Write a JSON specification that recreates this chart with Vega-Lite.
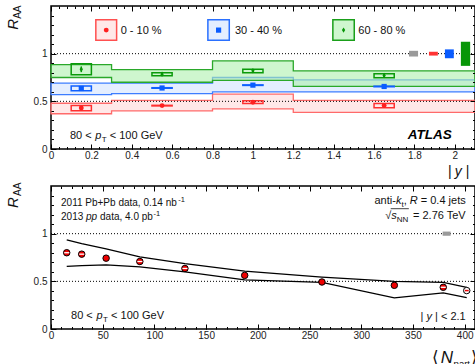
{
  "$schema": "https://vega.github.io/schema/vega-lite/v6.json",
  "background": "white",
  "padding": {"left": 5, "top": 4, "right": 1, "bottom": 0},
  "bounds": "flush",
  "spacing": 37,
  "config": {
    "font": "Liberation Sans",
    "view": {"stroke": "#000", "strokeWidth": 1.5},
    "axis": {"labelFont": "Liberation Sans", "labelOverlap": false, "labelFlush": false, "grid": false}
  },
  "datasets": {
    "tBand": [
      {"s": "0-10", "x": 0, "lo": 0.37, "hi": 0.48},
      {"s": "0-10", "x": 0.3, "lo": 0.40, "hi": 0.51},
      {"s": "0-10", "x": 0.8, "lo": 0.42, "hi": 0.575},
      {"s": "0-10", "x": 1.2, "lo": 0.385, "hi": 0.51},
      {"s": "0-10", "x": 2.1, "lo": 0.385, "hi": 0.51},
      {"s": "30-40", "x": 0, "lo": 0.57, "hi": 0.69},
      {"s": "30-40", "x": 0.3, "lo": 0.58, "hi": 0.69},
      {"s": "30-40", "x": 0.8, "lo": 0.60, "hi": 0.75},
      {"s": "30-40", "x": 1.2, "lo": 0.60, "hi": 0.726},
      {"s": "30-40", "x": 2.1, "lo": 0.60, "hi": 0.726},
      {"s": "60-80", "x": 0, "lo": 0.75, "hi": 0.885},
      {"s": "60-80", "x": 0.3, "lo": 0.70, "hi": 0.833},
      {"s": "60-80", "x": 0.8, "lo": 0.72, "hi": 0.924},
      {"s": "60-80", "x": 1.2, "lo": 0.656, "hi": 0.82},
      {"s": "60-80", "x": 2.1, "lo": 0.656, "hi": 0.82}
    ],
    "tPts": [
      {"s": "0-10", "x": 0.15, "y": 0.43, "elo": 0.422, "ehi": 0.438, "x1": 0.1, "x2": 0.2, "blo": 0.40, "bhi": 0.455},
      {"s": "0-10", "x": 0.55, "y": 0.455, "elo": 0.447, "ehi": 0.463, "x1": 0.5, "x2": 0.6, "blo": 0.452, "bhi": 0.458},
      {"s": "0-10", "x": 1.0, "y": 0.49, "elo": 0.482, "ehi": 0.498, "x1": 0.95, "x2": 1.05, "blo": 0.478, "bhi": 0.505},
      {"s": "0-10", "x": 1.65, "y": 0.455, "elo": 0.447, "ehi": 0.463, "x1": 1.6, "x2": 1.7, "blo": 0.432, "bhi": 0.476},
      {"s": "30-40", "x": 0.15, "y": 0.635, "elo": 0.625, "ehi": 0.645, "x1": 0.1, "x2": 0.2, "blo": 0.61, "bhi": 0.66},
      {"s": "30-40", "x": 0.55, "y": 0.64, "elo": 0.63, "ehi": 0.65, "x1": 0.5, "x2": 0.6, "blo": 0.637, "bhi": 0.643},
      {"s": "30-40", "x": 1.0, "y": 0.67, "elo": 0.66, "ehi": 0.68, "x1": 0.95, "x2": 1.05, "blo": 0.667, "bhi": 0.673},
      {"s": "30-40", "x": 1.65, "y": 0.656, "elo": 0.646, "ehi": 0.666, "x1": 1.6, "x2": 1.7, "blo": 0.653, "bhi": 0.659},
      {"s": "60-80", "x": 0.15, "y": 0.836, "elo": 0.806, "ehi": 0.866, "x1": 0.1, "x2": 0.2, "blo": 0.78, "bhi": 0.895},
      {"s": "60-80", "x": 0.55, "y": 0.785, "elo": 0.765, "ehi": 0.805, "x1": 0.5, "x2": 0.6, "blo": 0.768, "bhi": 0.80},
      {"s": "60-80", "x": 1.0, "y": 0.82, "elo": 0.80, "ehi": 0.84, "x1": 0.95, "x2": 1.05, "blo": 0.80, "bhi": 0.836},
      {"s": "60-80", "x": 1.65, "y": 0.77, "elo": 0.75, "ehi": 0.79, "x1": 1.6, "x2": 1.7, "blo": 0.748, "bhi": 0.79}
    ],
    "tNorm": [
      {"s": "pp", "x1": 1.773, "x2": 1.818, "y1": 0.97, "y2": 1.03},
      {"s": "0-10", "x1": 1.872, "x2": 1.916, "y1": 0.98, "y2": 1.02},
      {"s": "30-40", "x1": 1.951, "x2": 1.995, "y1": 0.952, "y2": 1.045},
      {"s": "60-80", "x1": 2.03, "x2": 2.076, "y1": 0.872, "y2": 1.125}
    ],
    "tLeg": [
      {"s": "0-10", "x1": 0.222, "x2": 0.325, "y1": 1.14, "y2": 1.355, "mx": 0.2735, "my": 1.247, "tx": 0.345, "ty": 1.24, "label": "0 - 10 %"},
      {"s": "30-40", "x1": 0.777, "x2": 0.883, "y1": 1.14, "y2": 1.355, "mx": 0.83, "my": 1.247, "tx": 0.911, "ty": 1.24, "label": "30 - 40 %"},
      {"s": "60-80", "x1": 1.396, "x2": 1.502, "y1": 1.14, "y2": 1.355, "mx": 1.449, "my": 1.247, "tx": 1.522, "ty": 1.24, "label": "60 - 80 %"}
    ],
    "bLines": [
      {"edge": "up", "N": 15.2, "v": 0.934}, {"edge": "up", "N": 29.7, "v": 0.895}, {"edge": "up", "N": 53.3, "v": 0.84},
      {"edge": "up", "N": 85.9, "v": 0.757}, {"edge": "up", "N": 129.5, "v": 0.685}, {"edge": "up", "N": 187.3, "v": 0.607},
      {"edge": "up", "N": 262, "v": 0.545}, {"edge": "up", "N": 332, "v": 0.50}, {"edge": "up", "N": 379.3, "v": 0.49},
      {"edge": "up", "N": 402, "v": 0.4375},
      {"edge": "lo", "N": 15.2, "v": 0.657}, {"edge": "lo", "N": 29.7, "v": 0.665}, {"edge": "lo", "N": 53.3, "v": 0.672},
      {"edge": "lo", "N": 85.9, "v": 0.652}, {"edge": "lo", "N": 129.5, "v": 0.60}, {"edge": "lo", "N": 187.3, "v": 0.515},
      {"edge": "lo", "N": 262, "v": 0.49}, {"edge": "lo", "N": 332, "v": 0.326}, {"edge": "lo", "N": 379.3, "v": 0.378},
      {"edge": "lo", "N": 402, "v": 0.33}
    ],
    "bPts": [
      {"N": 15.2, "v": 0.80}, {"N": 29.7, "v": 0.785}, {"N": 53.3, "v": 0.743}, {"N": 85.9, "v": 0.708},
      {"N": 129.5, "v": 0.635}, {"N": 187.3, "v": 0.5625}, {"N": 262, "v": 0.493}, {"N": 332, "v": 0.458},
      {"N": 379.3, "v": 0.4375}
    ],
    "bDash": [
      {"N": 15.2, "v": 0.80}, {"N": 29.7, "v": 0.785}, {"N": 85.9, "v": 0.708}, {"N": 129.5, "v": 0.635}, {"N": 379.3, "v": 0.4375}
    ],
    "bOpen": [
      {"N": 402, "v": 0.403}
    ]
  },
  "vconcat": [
    {
      "width": 424,
      "height": 143,
      "resolve": {
        "axis": {"x": "independent", "y": "independent"},
        "scale": {"fill": "independent", "stroke": "independent", "shape": "independent", "size": "independent"}
      },
      "layer": [
        {
          "data": {"name": "tBand"},
          "mark": {"type": "area", "interpolate": "step-after", "fillOpacity": 0.6, "strokeWidth": 1.3},
          "encoding": {
            "x": {"field": "x", "type": "quantitative", "scale": {"domain": [0, 2.1], "nice": false},
              "axis": {"orient": "bottom", "values": [0, 0.2, 0.4, 0.6, 0.8, 1, 1.2, 1.4, 1.6, 1.8, 2], "format": "~g", "ticks": false, "domain": false, "labelFontSize": 10, "labelColor": "#222", "labelPadding": 1, "title": null}},
            "y": {"field": "hi", "type": "quantitative", "scale": {"domain": [0, 1.5], "nice": false},
              "axis": {"orient": "left", "values": [0, 0.5, 1], "format": "~g", "ticks": false, "domain": false, "labelFontSize": 10, "labelColor": "#222", "labelPadding": 4, "title": null}},
            "y2": {"field": "lo"},
            "fill": {"field": "s", "type": "nominal", "scale": {"domain": ["0-10", "30-40", "60-80"], "range": ["#ffd9d9", "#d2e2ff", "#aef0ae"]}, "legend": null},
            "stroke": {"field": "s", "type": "nominal", "scale": {"domain": ["0-10", "30-40", "60-80"], "range": ["#ff6a6a", "#3d7dff", "#2aa82a"]}, "legend": null}
          }
        },
        {
          "data": {"values": [{"v": 1}, {"v": 0.5}]},
          "mark": {"type": "rule", "color": "#000", "strokeWidth": 1, "strokeDash": [1, 2]},
          "encoding": {"y": {"field": "v", "type": "quantitative", "axis": null}}
        },
        {
          "data": {"name": "tPts"},
          "mark": {"type": "rect", "filled": false, "strokeWidth": 1.5},
          "encoding": {
            "x": {"field": "x1", "type": "quantitative",
              "axis": {"orient": "bottom", "values": [0, 0.2, 0.4, 0.6, 0.8, 1, 1.2, 1.4, 1.6, 1.8, 2], "labels": false, "domain": false, "tickSize": 5, "offset": -5, "tickColor": "#000", "title": null, "zindex": 2}},
            "x2": {"field": "x2"},
            "y": {"field": "blo", "type": "quantitative",
              "axis": {"orient": "left", "values": [0, 0.5, 1], "labels": false, "domain": false, "tickSize": 5, "offset": -5, "tickColor": "#000", "title": null, "zindex": 2}},
            "y2": {"field": "bhi"},
            "stroke": {"field": "s", "type": "nominal", "scale": {"domain": ["0-10", "30-40", "60-80"], "range": ["#ff3030", "#1060ff", "#0a9a0a"]}, "legend": null}
          }
        },
        {
          "data": {"name": "tPts"},
          "mark": {"type": "rule", "strokeWidth": 1.5},
          "encoding": {
            "x": {"field": "x", "type": "quantitative",
              "axis": {"orient": "bottom", "values": [0, 0.04, 0.08, 0.12, 0.16, 0.2, 0.24, 0.28, 0.32, 0.36, 0.4, 0.44, 0.48, 0.52, 0.56, 0.6, 0.64, 0.68, 0.72, 0.76, 0.8, 0.84, 0.88, 0.92, 0.96, 1, 1.04, 1.08, 1.12, 1.16, 1.2, 1.24, 1.28, 1.32, 1.36, 1.4, 1.44, 1.48, 1.52, 1.56, 1.6, 1.64, 1.68, 1.72, 1.76, 1.8, 1.84, 1.88, 1.92, 1.96, 2, 2.04, 2.08], "labels": false, "domain": false, "tickSize": 2.5, "offset": -2.5, "tickColor": "#000", "title": null, "zindex": 2}},
            "y": {"field": "elo", "type": "quantitative",
              "axis": {"orient": "left", "values": [0, 0.1, 0.2, 0.3, 0.4, 0.5, 0.6, 0.7, 0.8, 0.9, 1, 1.1, 1.2, 1.3, 1.4], "labels": false, "domain": false, "tickSize": 2.5, "offset": -2.5, "tickColor": "#000", "title": null, "zindex": 2}},
            "y2": {"field": "ehi"},
            "stroke": {"field": "s", "type": "nominal", "scale": {"domain": ["0-10", "30-40", "60-80"], "range": ["#ff3030", "#1060ff", "#0a9a0a"]}, "legend": null}
          }
        },
        {
          "data": {"name": "tPts"},
          "mark": {"type": "point", "filled": true, "opacity": 1, "strokeWidth": 0},
          "encoding": {
            "x": {"field": "x", "type": "quantitative",
              "axis": {"orient": "top", "values": [0, 0.2, 0.4, 0.6, 0.8, 1, 1.2, 1.4, 1.6, 1.8, 2], "labels": false, "domain": false, "tickSize": 5, "offset": -5, "tickColor": "#000", "title": null, "zindex": 2}},
            "y": {"field": "y", "type": "quantitative",
              "axis": {"orient": "right", "values": [0, 0.5, 1], "labels": false, "domain": false, "tickSize": 5, "offset": -5, "tickColor": "#000", "title": null, "zindex": 2}},
            "fill": {"field": "s", "type": "nominal", "scale": {"domain": ["0-10", "30-40", "60-80"], "range": ["#ff2020", "#0a5cff", "#079607"]}, "legend": null},
            "shape": {"field": "s", "type": "nominal", "scale": {"domain": ["0-10", "30-40", "60-80"], "range": ["circle", "square", "M0,-1L0.6,0L0,1L-0.6,0Z"]}, "legend": null},
            "size": {"field": "s", "type": "ordinal", "scale": {"domain": ["0-10", "30-40", "60-80"], "range": [24, 30, 50]}, "legend": null}
          }
        },
        {
          "data": {"name": "tNorm"},
          "mark": {"type": "rect", "opacity": 1},
          "encoding": {
            "x": {"field": "x1", "type": "quantitative",
              "axis": {"orient": "top", "values": [0, 0.04, 0.08, 0.12, 0.16, 0.2, 0.24, 0.28, 0.32, 0.36, 0.4, 0.44, 0.48, 0.52, 0.56, 0.6, 0.64, 0.68, 0.72, 0.76, 0.8, 0.84, 0.88, 0.92, 0.96, 1, 1.04, 1.08, 1.12, 1.16, 1.2, 1.24, 1.28, 1.32, 1.36, 1.4, 1.44, 1.48, 1.52, 1.56, 1.6, 1.64, 1.68, 1.72, 1.76, 1.8, 1.84, 1.88, 1.92, 1.96, 2, 2.04, 2.08], "labels": false, "domain": false, "tickSize": 2.5, "offset": -2.5, "tickColor": "#000", "title": null, "zindex": 2}},
            "x2": {"field": "x2"},
            "y": {"field": "y1", "type": "quantitative",
              "axis": {"orient": "right", "values": [0, 0.1, 0.2, 0.3, 0.4, 0.5, 0.6, 0.7, 0.8, 0.9, 1, 1.1, 1.2, 1.3, 1.4], "labels": false, "domain": false, "tickSize": 2.5, "offset": -2.5, "tickColor": "#000", "title": null, "zindex": 2}},
            "y2": {"field": "y2"},
            "fill": {"field": "s", "type": "nominal", "scale": {"domain": ["pp", "0-10", "30-40", "60-80"], "range": ["#9a9a9a", "#ff3333", "#0a5cff", "#079607"]}, "legend": null}
          }
        },
        {
          "data": {"name": "tLeg"},
          "mark": {"type": "rect", "fillOpacity": 0.6, "strokeWidth": 1.5},
          "encoding": {
            "x": {"field": "x1", "type": "quantitative", "axis": null},
            "x2": {"field": "x2"},
            "y": {"field": "y1", "type": "quantitative", "axis": null},
            "y2": {"field": "y2"},
            "fill": {"field": "s", "type": "nominal", "scale": {"domain": ["0-10", "30-40", "60-80"], "range": ["#ffd9d9", "#d2e2ff", "#aef0ae"]}, "legend": null},
            "stroke": {"field": "s", "type": "nominal", "scale": {"domain": ["0-10", "30-40", "60-80"], "range": ["#ff5050", "#2a70ff", "#1a9f1a"]}, "legend": null}
          }
        },
        {
          "data": {"name": "tLeg"},
          "mark": {"type": "point", "filled": true, "opacity": 1, "strokeWidth": 0},
          "encoding": {
            "x": {"field": "mx", "type": "quantitative", "axis": null},
            "y": {"field": "my", "type": "quantitative", "axis": null},
            "fill": {"field": "s", "type": "nominal", "scale": {"domain": ["0-10", "30-40", "60-80"], "range": ["#ff2020", "#0a5cff", "#079607"]}, "legend": null},
            "shape": {"field": "s", "type": "nominal", "scale": {"domain": ["0-10", "30-40", "60-80"], "range": ["circle", "square", "M0,-1L0.6,0L0,1L-0.6,0Z"]}, "legend": null},
            "size": {"field": "s", "type": "ordinal", "scale": {"domain": ["0-10", "30-40", "60-80"], "range": [24, 30, 50]}, "legend": null}
          }
        },
        {
          "data": {"name": "tLeg"},
          "mark": {"type": "text", "align": "left", "baseline": "middle", "fontSize": 11, "color": "#111"},
          "encoding": {
            "x": {"field": "tx", "type": "quantitative", "axis": null},
            "y": {"field": "ty", "type": "quantitative", "axis": null},
            "text": {"field": "label"}
          }
        },
        {
          "data": {"values": [{"x": 0.0936, "y": 0.104, "t": "80 <"}, {"x": 0.291, "y": 0.104, "t": "< 100 GeV"}]},
          "mark": {"type": "text", "align": "left", "baseline": "alphabetic", "fontSize": 11, "color": "#111"},
          "encoding": {"x": {"field": "x", "type": "quantitative", "axis": null}, "y": {"field": "y", "type": "quantitative", "axis": null}, "text": {"field": "t"}}
        },
        {
          "data": {"values": [{"x": 0.219, "y": 0.104, "t": "p"}]},
          "mark": {"type": "text", "align": "left", "baseline": "alphabetic", "fontSize": 11, "fontStyle": "italic", "color": "#111"},
          "encoding": {"x": {"field": "x", "type": "quantitative", "axis": null}, "y": {"field": "y", "type": "quantitative", "axis": null}, "text": {"field": "t"}}
        },
        {
          "data": {"values": [{"x": 0.251, "y": 0.073, "t": "T"}]},
          "mark": {"type": "text", "align": "left", "baseline": "alphabetic", "fontSize": 8, "color": "#111"},
          "encoding": {"x": {"field": "x", "type": "quantitative", "axis": null}, "y": {"field": "y", "type": "quantitative", "axis": null}, "text": {"field": "t"}}
        },
        {
          "data": {"values": [{"x": 1.985, "y": 0.104, "t": "ATLAS"}]},
          "mark": {"type": "text", "align": "right", "baseline": "alphabetic", "fontSize": 13.5, "fontStyle": "italic", "fontWeight": "bold", "color": "#000"},
          "encoding": {"x": {"field": "x", "type": "quantitative", "axis": null}, "y": {"field": "y", "type": "quantitative", "axis": null}, "text": {"field": "t"}}
        },
        {
          "data": {"values": [{"x": 1.966, "y": -0.281, "t": "|"}, {"x": 2.054, "y": -0.281, "t": "|"}]},
          "mark": {"type": "text", "align": "left", "baseline": "alphabetic", "fontSize": 14, "color": "#111"},
          "encoding": {"x": {"field": "x", "type": "quantitative", "axis": null}, "y": {"field": "y", "type": "quantitative", "axis": null}, "text": {"field": "t"}}
        },
        {
          "data": {"values": [{"x": 2.0, "y": -0.281, "t": "y"}]},
          "mark": {"type": "text", "align": "left", "baseline": "alphabetic", "fontSize": 14, "fontStyle": "italic", "color": "#111"},
          "encoding": {"x": {"field": "x", "type": "quantitative", "axis": null}, "y": {"field": "y", "type": "quantitative", "axis": null}, "text": {"field": "t"}}
        },
        {
          "data": {"values": [{"x": -0.1626, "y": 1.25, "t": "R"}]},
          "mark": {"type": "text", "angle": 270, "align": "left", "baseline": "alphabetic", "fontSize": 15, "fontStyle": "italic", "color": "#111"},
          "encoding": {"x": {"field": "x", "type": "quantitative", "axis": null}, "y": {"field": "y", "type": "quantitative", "axis": null}, "text": {"field": "t"}}
        },
        {
          "data": {"values": [{"x": -0.148, "y": 1.365, "t": "AA"}]},
          "mark": {"type": "text", "angle": 270, "align": "left", "baseline": "alphabetic", "fontSize": 10, "color": "#111"},
          "encoding": {"x": {"field": "x", "type": "quantitative", "axis": null}, "y": {"field": "y", "type": "quantitative", "axis": null}, "text": {"field": "t"}}
        }
      ]
    },
    {
      "width": 424,
      "height": 143,
      "resolve": {"axis": {"x": "independent", "y": "independent"}},
      "layer": [
        {
          "data": {"name": "bLines"},
          "mark": {"type": "line", "color": "#000", "strokeWidth": 1.3},
          "encoding": {
            "x": {"field": "N", "type": "quantitative", "scale": {"domain": [0, 410], "nice": false},
              "axis": {"orient": "bottom", "values": [0, 50, 100, 150, 200, 250, 300, 350, 400], "format": "d", "ticks": false, "domain": false, "labelFontSize": 10, "labelColor": "#222", "labelPadding": 1, "title": null}},
            "y": {"field": "v", "type": "quantitative", "scale": {"domain": [0, 1.5], "nice": false},
              "axis": {"orient": "left", "values": [0, 0.5, 1], "format": "~g", "ticks": false, "domain": false, "labelFontSize": 10, "labelColor": "#222", "labelPadding": 4, "title": null}},
            "detail": {"field": "edge"}
          }
        },
        {
          "data": {"values": [{"v": 1}, {"v": 0.5}]},
          "mark": {"type": "rule", "color": "#000", "strokeWidth": 1, "strokeDash": [1, 2]},
          "encoding": {"y": {"field": "v", "type": "quantitative", "axis": null}}
        },
        {
          "data": {"values": [{"x1": 378.7, "x2": 386.4, "y1": 0.978, "y2": 1.022}]},
          "mark": {"type": "rect", "color": "#9a9a9a", "opacity": 1},
          "encoding": {
            "x": {"field": "x1", "type": "quantitative",
              "axis": {"orient": "bottom", "values": [0, 50, 100, 150, 200, 250, 300, 350, 400], "labels": false, "domain": false, "tickSize": 5, "offset": -5, "tickColor": "#000", "title": null, "zindex": 2}},
            "x2": {"field": "x2"},
            "y": {"field": "y1", "type": "quantitative",
              "axis": {"orient": "left", "values": [0, 0.5, 1], "labels": false, "domain": false, "tickSize": 5, "offset": -5, "tickColor": "#000", "title": null, "zindex": 2}},
            "y2": {"field": "y2"}
          }
        },
        {
          "data": {"name": "bPts"},
          "mark": {"type": "circle", "fill": "#ee0000", "stroke": "#000", "strokeWidth": 1, "size": 42, "opacity": 1},
          "encoding": {
            "x": {"field": "N", "type": "quantitative",
              "axis": {"orient": "bottom", "values": [0, 10, 20, 30, 40, 50, 60, 70, 80, 90, 100, 110, 120, 130, 140, 150, 160, 170, 180, 190, 200, 210, 220, 230, 240, 250, 260, 270, 280, 290, 300, 310, 320, 330, 340, 350, 360, 370, 380, 390, 400], "labels": false, "domain": false, "tickSize": 2.5, "offset": -2.5, "tickColor": "#000", "title": null, "zindex": 2}},
            "y": {"field": "v", "type": "quantitative",
              "axis": {"orient": "left", "values": [0, 0.1, 0.2, 0.3, 0.4, 0.5, 0.6, 0.7, 0.8, 0.9, 1, 1.1, 1.2, 1.3, 1.4], "labels": false, "domain": false, "tickSize": 2.5, "offset": -2.5, "tickColor": "#000", "title": null, "zindex": 2}}
          }
        },
        {
          "data": {"name": "bDash"},
          "mark": {"type": "tick", "orient": "horizontal", "size": 5, "thickness": 1.3, "color": "#ffffff", "opacity": 1},
          "encoding": {
            "x": {"field": "N", "type": "quantitative",
              "axis": {"orient": "top", "values": [0, 50, 100, 150, 200, 250, 300, 350, 400], "labels": false, "domain": false, "tickSize": 5, "offset": -5, "tickColor": "#000", "title": null, "zindex": 2}},
            "y": {"field": "v", "type": "quantitative",
              "axis": {"orient": "right", "values": [0, 0.5, 1], "labels": false, "domain": false, "tickSize": 5, "offset": -5, "tickColor": "#000", "title": null, "zindex": 2}}
          }
        },
        {
          "data": {"name": "bOpen"},
          "mark": {"type": "circle", "fill": "#ffffff", "stroke": "#000", "strokeWidth": 1, "size": 42, "opacity": 1},
          "encoding": {
            "x": {"field": "N", "type": "quantitative",
              "axis": {"orient": "top", "values": [0, 10, 20, 30, 40, 50, 60, 70, 80, 90, 100, 110, 120, 130, 140, 150, 160, 170, 180, 190, 200, 210, 220, 230, 240, 250, 260, 270, 280, 290, 300, 310, 320, 330, 340, 350, 360, 370, 380, 390, 400], "labels": false, "domain": false, "tickSize": 2.5, "offset": -2.5, "tickColor": "#000", "title": null, "zindex": 2}},
            "y": {"field": "v", "type": "quantitative",
              "axis": {"orient": "right", "values": [0, 0.1, 0.2, 0.3, 0.4, 0.5, 0.6, 0.7, 0.8, 0.9, 1, 1.1, 1.2, 1.3, 1.4], "labels": false, "domain": false, "tickSize": 2.5, "offset": -2.5, "tickColor": "#000", "title": null, "zindex": 2}}
          }
        },
        {
          "data": {"name": "bOpen"},
          "mark": {"type": "tick", "orient": "horizontal", "size": 4, "thickness": 1.5, "color": "#ee0000", "opacity": 1},
          "encoding": {"x": {"field": "N", "type": "quantitative", "axis": null}, "y": {"field": "v", "type": "quantitative", "axis": null}}
        },
        {
          "data": {"values": [
            {"x": 19.4, "y": 0.10, "t": "80 <"}, {"x": 58.1, "y": 0.10, "t": "< 100 GeV"},
            {"x": 312.8, "y": 1.3125, "t": "anti-"}, {"x": 341.1, "y": 1.3125, "t": ","},
            {"x": 323.2, "y": 1.156, "t": "√"},
            {"x": 357.4, "y": 0.094, "t": "|"}
          ]},
          "mark": {"type": "text", "align": "left", "baseline": "alphabetic", "fontSize": 11, "color": "#111"},
          "encoding": {"x": {"field": "x", "type": "quantitative", "axis": null}, "y": {"field": "y", "type": "quantitative", "axis": null}, "text": {"field": "t"}}
        },
        {
          "data": {"values": [
            {"x": 9.69, "y": 1.286, "t": "2011 Pb+Pb data, 0.14 nb"},
            {"x": 9.69, "y": 1.146, "t": "2013"}, {"x": 47.4, "y": 1.146, "t": "data, 4.0 pb"}
          ]},
          "mark": {"type": "text", "align": "left", "baseline": "alphabetic", "fontSize": 10, "color": "#111"},
          "encoding": {"x": {"field": "x", "type": "quantitative", "axis": null}, "y": {"field": "y", "type": "quantitative", "axis": null}, "text": {"field": "t"}}
        },
        {
          "data": {"values": [{"x": 33.9, "y": 1.146, "t": "pp"}]},
          "mark": {"type": "text", "align": "left", "baseline": "alphabetic", "fontSize": 10, "fontStyle": "italic", "color": "#111"},
          "encoding": {"x": {"field": "x", "type": "quantitative", "axis": null}, "y": {"field": "y", "type": "quantitative", "axis": null}, "text": {"field": "t"}}
        },
        {
          "data": {"values": [{"x": 123.0, "y": 1.328, "t": "-1"}, {"x": 99.0, "y": 1.188, "t": "-1"}]},
          "mark": {"type": "text", "align": "left", "baseline": "alphabetic", "fontSize": 7.5, "color": "#111"},
          "encoding": {"x": {"field": "x", "type": "quantitative", "axis": null}, "y": {"field": "y", "type": "quantitative", "axis": null}, "text": {"field": "t"}}
        },
        {
          "data": {"values": [
            {"x": 44.1, "y": 0.10, "t": "p"},
            {"x": 333.6, "y": 1.3125, "t": "k"}, {"x": 347.0, "y": 1.3125, "t": "R"},
            {"x": 329.0, "y": 1.156, "t": "s"}, {"x": 363.2, "y": 0.094, "t": "y"}
          ]},
          "mark": {"type": "text", "align": "left", "baseline": "alphabetic", "fontSize": 11, "fontStyle": "italic", "color": "#111"},
          "encoding": {"x": {"field": "x", "type": "quantitative", "axis": null}, "y": {"field": "y", "type": "quantitative", "axis": null}, "text": {"field": "t"}}
        },
        {
          "data": {"values": [
            {"x": 50.4, "y": 0.07, "t": "T"},
            {"x": 339.0, "y": 1.281, "t": "t"}, {"x": 334.3, "y": 1.125, "t": "NN"}
          ]},
          "mark": {"type": "text", "align": "left", "baseline": "alphabetic", "fontSize": 8, "color": "#111"},
          "encoding": {"x": {"field": "x", "type": "quantitative", "axis": null}, "y": {"field": "y", "type": "quantitative", "axis": null}, "text": {"field": "t"}}
        },
        {
          "data": {"values": [
            {"x": 401.0, "y": 1.3125, "t": "= 0.4 jets"}, {"x": 401.0, "y": 1.156, "t": "= 2.76 TeV"}, {"x": 401.0, "y": 0.094, "t": "| < 2.1"}
          ]},
          "mark": {"type": "text", "align": "right", "baseline": "alphabetic", "fontSize": 11, "color": "#111"},
          "encoding": {"x": {"field": "x", "type": "quantitative", "axis": null}, "y": {"field": "y", "type": "quantitative", "axis": null}, "text": {"field": "t"}}
        },
        {
          "data": {"values": [{"x1": 328.5, "x2": 346.0, "y": 1.262}]},
          "mark": {"type": "rule", "color": "#111", "strokeWidth": 0.8},
          "encoding": {"x": {"field": "x1", "type": "quantitative", "axis": null}, "x2": {"field": "x2"}, "y": {"field": "y", "type": "quantitative", "axis": null}}
        },
        {
          "data": {"values": [{"x": 368, "y": -0.354, "t": "⟨"}, {"x": 405.8, "y": -0.354, "t": "⟩"}]},
          "mark": {"type": "text", "align": "left", "baseline": "alphabetic", "fontSize": 17, "color": "#111"},
          "encoding": {"x": {"field": "x", "type": "quantitative", "axis": null}, "y": {"field": "y", "type": "quantitative", "axis": null}, "text": {"field": "t"}}
        },
        {
          "data": {"values": [{"x": 376.8, "y": -0.354, "t": "N"}]},
          "mark": {"type": "text", "align": "left", "baseline": "alphabetic", "fontSize": 17, "fontStyle": "italic", "color": "#111"},
          "encoding": {"x": {"field": "x", "type": "quantitative", "axis": null}, "y": {"field": "y", "type": "quantitative", "axis": null}, "text": {"field": "t"}}
        },
        {
          "data": {"values": [{"x": 389.3, "y": -0.396, "t": "part"}]},
          "mark": {"type": "text", "align": "left", "baseline": "alphabetic", "fontSize": 9.5, "color": "#111"},
          "encoding": {"x": {"field": "x", "type": "quantitative", "axis": null}, "y": {"field": "y", "type": "quantitative", "axis": null}, "text": {"field": "t"}}
        },
        {
          "data": {"values": [{"x": -32, "y": 1.27, "t": "R"}]},
          "mark": {"type": "text", "angle": 270, "align": "left", "baseline": "alphabetic", "fontSize": 15, "fontStyle": "italic", "color": "#111"},
          "encoding": {"x": {"field": "x", "type": "quantitative", "axis": null}, "y": {"field": "y", "type": "quantitative", "axis": null}, "text": {"field": "t"}}
        },
        {
          "data": {"values": [{"x": -29, "y": 1.396, "t": "AA"}]},
          "mark": {"type": "text", "angle": 270, "align": "left", "baseline": "alphabetic", "fontSize": 10, "color": "#111"},
          "encoding": {"x": {"field": "x", "type": "quantitative", "axis": null}, "y": {"field": "y", "type": "quantitative", "axis": null}, "text": {"field": "t"}}
        }
      ]
    }
  ]
}
